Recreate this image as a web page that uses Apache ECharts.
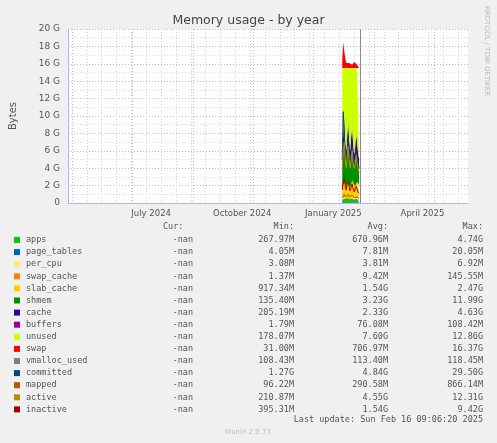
<!DOCTYPE html>
<html>
<head>
<meta charset="utf-8">
<script src="https://cdn.jsdelivr.net/npm/echarts@6/dist/echarts.min.js"></script>
<style>
  html, body { margin: 0; padding: 0; background: #f0f0f0; }
  #main { width: 497px; height: 443px; }
</style>
</head>
<body>
<div id="main"></div>
<script>
// axis / time range
var startDate = new Date(2024, 3, 8);
var dayCount = 405;
var dataStart = 277;   // first day with data (mid Jan 2025)
var nowIndex = 295;    // dark vertical "now" line
var yTicks = [0, 2, 4, 6, 8, 10, 12, 14, 16, 18, 20];

// stacked series (GB per day)
var apps        = [0.4,0.5,0.6,0.5,0.4,0.5,0.6,0.5,0.4,0.5,0.6,0.5,0.4,0.5,0.6,0.5,0.4,0.5];
var page_tables = [0.01,0.01,0.01,0.01,0.01,0.01,0.01,0.01,0.01,0.01,0.01,0.01,0.01,0.01,0.01,0.01,0.01,0.01];
var per_cpu     = [0.004,0.004,0.004,0.004,0.004,0.004,0.004,0.004,0.004,0.004,0.004,0.004,0.004,0.004,0.004,0.004,0.004,0.004];
var swap_cache  = [0.01,0.01,0.02,0.01,0.01,0.01,0.01,0.01,0.01,0.01,0.01,0.01,0.01,0.01,0.01,0.01,0.01,0.01];
var slab_cache  = [1.2,1.5,1.8,1.6,1.4,1.7,1.9,1.5,1.3,1.6,2.0,1.8,1.5,1.4,1.7,1.9,1.6,1.5];
var shmem       = [2.0,3.5,4.5,3.0,2.5,3.2,4.0,2.8,2.2,3.0,3.8,2.6,2.0,2.4,3.1,2.7,2.2,1.8];
var cache       = [1.5,2.5,3.0,2.0,1.5,2.2,2.8,2.4,2.0,2.5,2.2,1.8,1.6,2.0,2.4,1.9,1.5,1.2];
var buffers     = [0.1,0.1,0.1,0.1,0.1,0.1,0.1,0.1,0.1,0.1,0.1,0.1,0.1,0.1,0.1,0.1,0.1,0.1];
var unused      = [10.28,7.38,5.48,8.28,9.58,7.78,6.08,8.18,9.48,7.78,6.78,8.68,9.88,9.08,7.58,8.38,9.68,10.38];
var swap        = [1.0,3.0,2.0,1.2,0.6,0.5,0.5,0.6,0.8,0.5,0.4,0.6,0.7,0.5,0.5,0.4,0.6,0.5];
// line series
var vmalloc_used = [0.11,0.11,0.11,0.11,0.11,0.11,0.11,0.11,0.11,0.11,0.11,0.11,0.11,0.11,0.11,0.11,0.11,0.11];
var committed   = [5,10.5,8,6,5,6,7.5,6,5,5.5,6.5,5,4.5,5,6,5,4.5,4];
var mapped      = [0.6,0.8,1,0.7,0.6,0.8,1,0.7,0.6,0.7,0.9,0.7,0.6,0.7,0.8,0.7,0.6,0.5];
var active      = [4,6,7,5,4,5.5,6.5,5,4,5,6,4.5,4,4.5,5.5,4.5,4,3.5];
var inactive    = [1.5,2.5,2.8,2,1.5,2.2,2.5,1.8,1.4,1.8,2.2,1.6,1.3,1.5,1.9,1.6,1.3,1.1];

// legend table
var names  = ['apps','page_tables','per_cpu','swap_cache','slab_cache','shmem','cache','buffers','unused','swap','vmalloc_used','committed','mapped','active','inactive'];
var colors = ['#00cc00','#0066b3','#ffe680','#ff8000','#ffcc00','#008f00','#330099','#990099','#ccff00','#ff0000','#808080','#00487d','#b35a00','#b38f00','#a30000'];
var curVals = ['-nan','-nan','-nan','-nan','-nan','-nan','-nan','-nan','-nan','-nan','-nan','-nan','-nan','-nan','-nan'];
var minVals = ['267.97M','4.05M','3.08M','1.37M','917.34M','135.40M','205.19M','1.79M','178.07M','31.00M','108.43M','1.27G','96.22M','210.87M','395.31M'];
var avgVals = ['670.96M','7.81M','3.81M','9.42M','1.54G','3.23G','2.33G','76.08M','7.60G','706.97M','113.40M','4.84G','290.58M','4.55G','1.54G'];
var maxVals = ['4.74G','20.05M','6.92M','145.55M','2.47G','11.99G','4.63G','108.42M','12.86G','16.37G','118.45M','29.50G','866.14M','12.31G','9.42G'];

var stacked = [apps, page_tables, per_cpu, swap_cache, slab_cache, shmem, cache, buffers, unused, swap];
var lines = [vmalloc_used, committed, mapped, active, inactive];

var monthNames = ['January','February','March','April','May','June','July','August','September','October','November','December'];
var days = [];
for (var i = 0; i < dayCount; i++) {
  var d = new Date(startDate.getTime());
  d.setDate(d.getDate() + i);
  days.push(d);
}
var cats = days.map(function (d, i) { return String(i); });

function pad(vals) {
  var arr = new Array(dayCount).fill(null);
  vals.forEach(function (v, k) { arr[dataStart + k] = v; });
  return arr;
}

var series = [];
stacked.forEach(function (vals, k) {
  series.push({
    name: names[k], type: 'line', stack: 'mem', data: pad(vals),
    symbol: 'none', lineStyle: { width: 0 }, itemStyle: { color: colors[k] },
    areaStyle: { color: colors[k], opacity: 1 }, silent: true
  });
});
lines.forEach(function (vals, k) {
  series.push({
    name: names[10 + k], type: 'line', data: pad(vals), symbol: 'none',
    lineStyle: { width: 1, color: colors[10 + k] }, silent: true
  });
});
series[0].markLine = {
  silent: true, symbol: 'none', label: { show: false },
  lineStyle: { color: '#888', type: 'solid', width: 1 },
  data: [{ xAxis: String(nowIndex) }]
};

var graphic = [];
var rowY0 = 240, rowH = 12.1;
graphic.push({ type: 'text', left: 163, top: 222, style: { text: 'Cur:', font: '8.5px "DejaVu Sans Mono"', fill: '#555' } });
graphic.push({ type: 'text', right: 203, top: 222, style: { text: 'Min:', font: '8.5px "DejaVu Sans Mono"', fill: '#555' } });
graphic.push({ type: 'text', right: 109, top: 222, style: { text: 'Avg:', font: '8.5px "DejaVu Sans Mono"', fill: '#555' } });
graphic.push({ type: 'text', right: 14, top: 222, style: { text: 'Max:', font: '8.5px "DejaVu Sans Mono"', fill: '#555' } });
names.forEach(function (n, k) {
  var y = rowY0 + k * rowH;
  graphic.push({ type: 'rect', shape: { x: 14, y: y - 3, width: 6, height: 6 }, style: { fill: colors[k] } });
  var f = '8.5px "DejaVu Sans Mono"';
  graphic.push({ type: 'text', x: 26, y: y, style: { text: n, font: f, fill: '#555', textVerticalAlign: 'middle' } });
  graphic.push({ type: 'text', x: 193, y: y, style: { text: curVals[k], font: f, fill: '#555', textAlign: 'right', textVerticalAlign: 'middle' } });
  graphic.push({ type: 'text', x: 294, y: y, style: { text: minVals[k], font: f, fill: '#555', textAlign: 'right', textVerticalAlign: 'middle' } });
  graphic.push({ type: 'text', x: 388, y: y, style: { text: avgVals[k], font: f, fill: '#555', textAlign: 'right', textVerticalAlign: 'middle' } });
  graphic.push({ type: 'text', x: 483, y: y, style: { text: maxVals[k], font: f, fill: '#555', textAlign: 'right', textVerticalAlign: 'middle' } });
});
graphic.push({ type: 'text', x: 483, y: 420, style: { text: 'Last update: Sun Feb 16 09:06:20 2025', font: '8.5px "DejaVu Sans Mono"', fill: '#555', textAlign: 'right', textVerticalAlign: 'middle' } });
graphic.push({ type: 'text', x: 248, y: 432, style: { text: 'Munin 2.0.73', font: '7px "DejaVu Sans"', fill: '#bbb', textAlign: 'center', textVerticalAlign: 'middle' } });
graphic.push({ type: 'text', x: 487, y: 6, rotation: -Math.PI / 2, style: { text: 'RRDTOOL / TOBI OETIKER', font: '7px "DejaVu Sans"', fill: '#bbb', textAlign: 'left', textVerticalAlign: 'middle' } });

var myChart = echarts.init(document.getElementById('main'));
var option = {
  animation: false,
  backgroundColor: '#f0f0f0',
  title: {
    text: 'Memory usage - by year', left: 'center', top: 9,
    textStyle: { fontFamily: 'DejaVu Sans', fontSize: 12.5, fontWeight: 'normal', color: '#444' }
  },
  grid: { left: 66, top: 29, width: 402, height: 174, backgroundColor: '#fff', show: true, borderWidth: 0 },
  xAxis: [{
    type: 'category', data: cats, boundaryGap: false,
    axisLine: { lineStyle: { color: '#aab4ff' } },
    axisTick: { show: false },
    axisLabel: {
      interval: function (i) {
        var d = days[i];
        return d.getDate() === 1 && [0, 3, 6, 9].indexOf(d.getMonth()) >= 0;
      },
      formatter: function (v) { var d = days[+v]; return monthNames[d.getMonth()] + ' ' + d.getFullYear(); },
      fontFamily: 'DejaVu Sans', fontSize: 8.5, color: '#555', margin: 6
    },
    splitLine: { show: true, interval: function (i) { return (i - 4) % 61 === 0; }, lineStyle: { color: '#e8a8a8', type: [1, 2] } }
  }, {
    type: 'category', data: cats, boundaryGap: false, position: 'bottom',
    axisLine: { show: false }, axisTick: { show: false }, axisLabel: { show: false },
    splitLine: { show: true, interval: function (i) { return (i - 4) % 61 !== 0 && (i - 4) % 15 === 0; }, lineStyle: { color: '#d0d0d0', type: [1, 2] } }
  }],
  yAxis: {
    type: 'value', min: 0, max: 20, interval: 2,
    name: 'Bytes', nameLocation: 'middle', nameGap: 50, nameRotate: 90,
    nameTextStyle: { fontFamily: 'DejaVu Sans', fontSize: 10, color: '#555' },
    axisLine: { show: true, lineStyle: { color: '#aab4ff' } },
    axisTick: { show: false },
    axisLabel: {
      formatter: function (v) { return v === 0 ? '0' : v + ' G'; },
      fontFamily: 'DejaVu Sans', fontSize: 9, color: '#555', margin: 8
    },
    splitLine: { lineStyle: { color: '#e8a8a8', type: [1, 2] } },
    minorTick: { show: false, splitNumber: 2 },
    minorSplitLine: { show: true, lineStyle: { color: '#d8d8d8', type: [1, 2] } }
  },
  series: series,
  graphic: graphic
};
option && myChart.setOption(option);
</script>
</body>
</html>
